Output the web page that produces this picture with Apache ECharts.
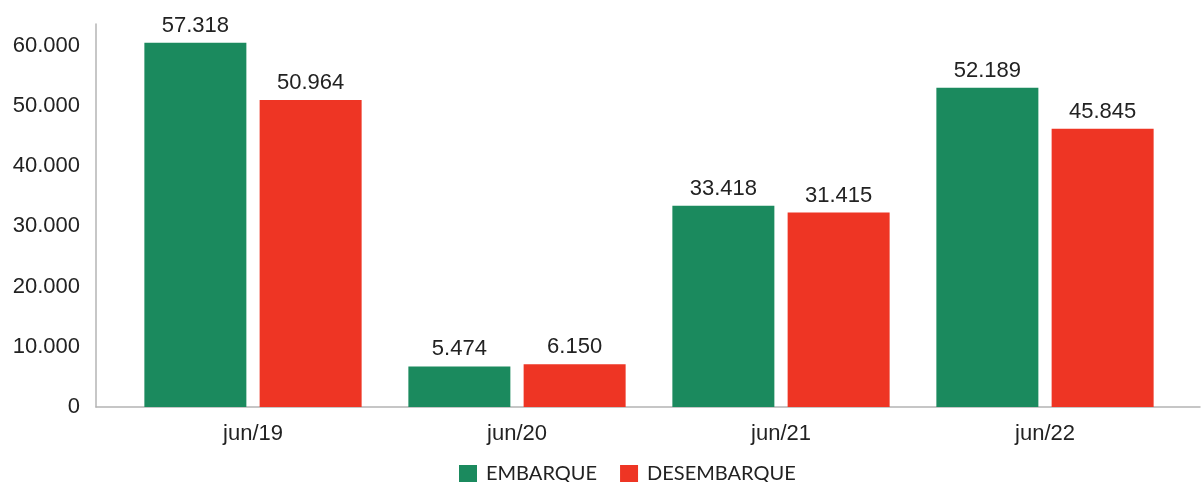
<!DOCTYPE html>
<html>
<head>
<meta charset="utf-8">
<script src="https://cdn.jsdelivr.net/npm/echarts@6/dist/echarts.min.js"></script>
<style>
html,body{margin:0;padding:0;background:#fff;}
#c{width:1202px;height:482px;}
</style>
</head>
<body>
<div id="c"></div>
<script>
// Categories
var categories = ['jun/19', 'jun/20', 'jun/21', 'jun/22'];
// Bar heights as read against the y axis of the picture
var embarqueBars = [60500, 6740, 33400, 53000];
var desembarqueBars = [51000, 7080, 32300, 46200];
// Values printed above the bars
var embarqueLabels = ['57.318', '5.474', '33.418', '52.189'];
var desembarqueLabels = ['50.964', '6.150', '31.415', '45.845'];
// Series names
var seriesNames = ['EMBARQUE', 'DESEMBARQUE'];

function fmt(v) {
  var s = String(Math.round(v));
  return s.replace(/\B(?=(\d{3})+(?!\d))/g, '.');
}

var chart = echarts.init(document.getElementById('c'));
var FONT = '"Liberation Sans", Arial, sans-serif';
var yMax = 63600;

chart.setOption({
  animation: false,
  backgroundColor: '#ffffff',
  legend: {
    left: 454,
    top: 459,
    itemWidth: 18,
    itemHeight: 18,
    itemGap: 23,
    icon: 'rect',
    textStyle: { fontFamily: 'Lato, "Noto Sans", sans-serif', fontSize: 20, color: '#222', padding: [0, 0, 0, 4] },
    data: seriesNames
  },
  grid: [
    { left: 96, right: 2, top: 24, bottom: 75 },
    { left: 121, right: 25, top: 24, bottom: 75 }
  ],
  xAxis: [
    {
      gridIndex: 0, type: 'category', data: categories,
      axisLine: { show: true, lineStyle: { color: '#b4b4b4', width: 1.5 } },
      axisTick: { show: false }, axisLabel: { show: false }
    },
    {
      gridIndex: 1, type: 'category', data: categories,
      axisLine: { show: false }, axisTick: { show: false },
      axisLabel: { fontFamily: FONT, fontSize: 22, color: '#222', margin: 16 }
    }
  ],
  yAxis: [
    {
      gridIndex: 0, type: 'value', min: 0, max: yMax, interval: 10000,
      axisLine: { show: true, lineStyle: { color: '#b4b4b4', width: 1.5 } },
      axisTick: { show: false }, splitLine: { show: false },
      axisLabel: { fontFamily: FONT, fontSize: 22, color: '#222', margin: 16, showMaxLabel: false, formatter: fmt }
    },
    {
      gridIndex: 1, type: 'value', min: 0, max: yMax, interval: 10000, show: false,
      splitLine: { show: false }
    }
  ],
  series: [
    {
      name: seriesNames[0], type: 'bar', xAxisIndex: 1, yAxisIndex: 1,
      data: embarqueBars, barWidth: 102, barGap: '13%',
      itemStyle: { color: '#1b8a5e' },
      label: {
        show: true, position: 'top', distance: 6,
        fontFamily: FONT, fontSize: 22, color: '#222',
        formatter: function (p) { return embarqueLabels[p.dataIndex]; }
      }
    },
    {
      name: seriesNames[1], type: 'bar', xAxisIndex: 1, yAxisIndex: 1,
      data: desembarqueBars, barWidth: 102, barGap: '13%',
      itemStyle: { color: '#ee3524' },
      label: {
        show: true, position: 'top', distance: 6,
        fontFamily: FONT, fontSize: 22, color: '#222',
        formatter: function (p) { return desembarqueLabels[p.dataIndex]; }
      }
    }
  ]
});
</script>
</body>
</html>
